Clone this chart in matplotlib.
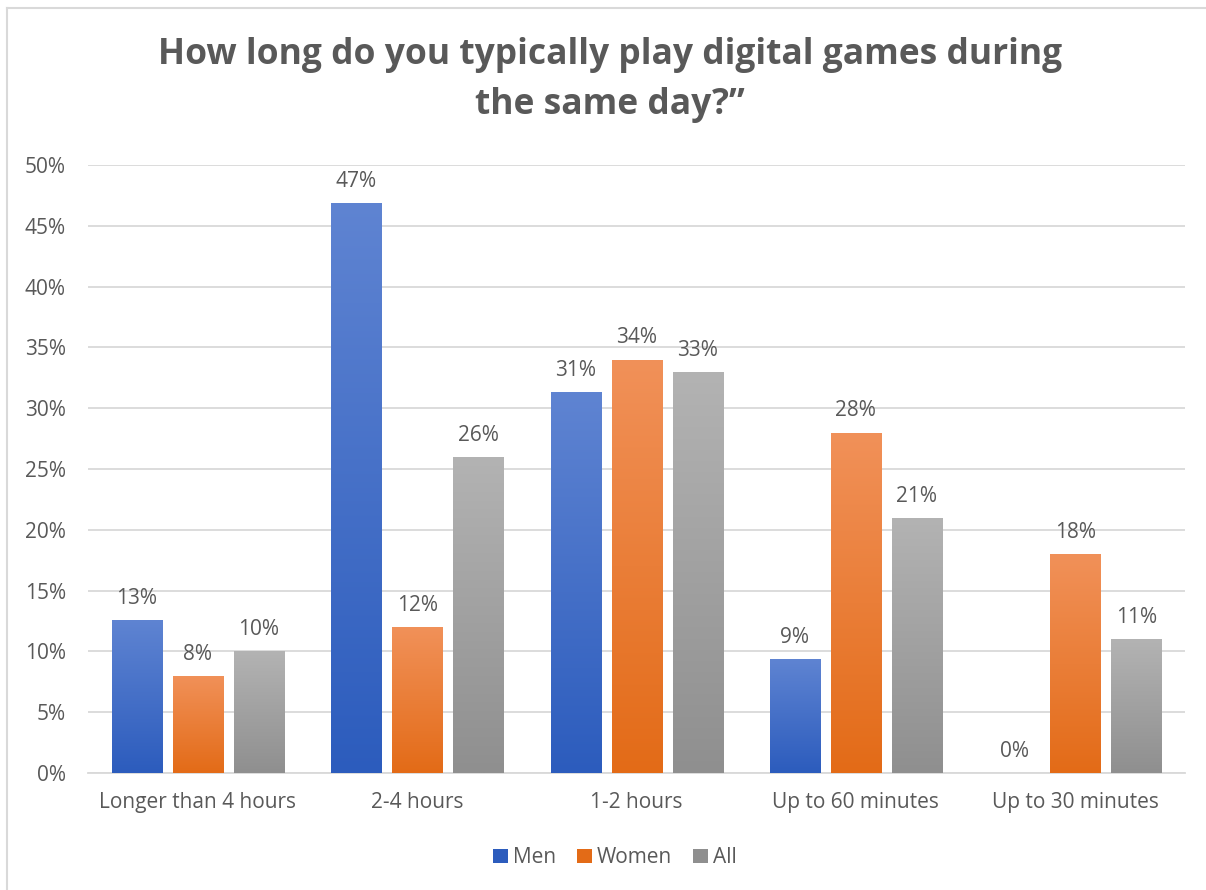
import numpy as np
import matplotlib.pyplot as plt
from matplotlib.patches import Patch
from matplotlib.lines import Line2D
from matplotlib.colors import LinearSegmentedColormap

categories = ['Longer than 4 hours', '2-4 hours', '1-2 hours', 'Up to 60 minutes', 'Up to 30 minutes']
series_names = ['Men', 'Women', 'All']
men = [12.6, 46.9, 31.3, 9.4, 0.0]
women = [8, 12, 34, 28, 18]
everyone = [10, 26, 33, 21, 11]
y_ticks = [0, 5, 10, 15, 20, 25, 30, 35, 40, 45, 50]

# (top, bottom) gradient colours for each series
gradients = [('#5f84d2', '#2c5cbd'), ('#f19159', '#e36b17'), ('#b3b3b3', '#8f8f8f')]
text_color = '#595959'
grid_color = '#d9d9d9'

plt.rcParams['font.family'] = ['Open Sans', 'DejaVu Sans']

fig = plt.figure(figsize=(12.06, 8.9), dpi=100)
ax = fig.add_axes([0.073, 0.1315, 0.9096, 0.6831])

x = np.arange(len(categories))
width = 0.228
stride = 0.278
series = [men, women, everyone]

for i, values in enumerate(series):
    offs = (i - 1) * stride
    top_c, bot_c = gradients[i]
    cmap = LinearSegmentedColormap.from_list('g%d' % i, [bot_c, top_c])
    bars = ax.bar(x + offs, values, width, color=top_c, zorder=3, linewidth=0)
    for bar, v in zip(bars, values):
        if v > 0:
            x0 = bar.get_x()
            grad = np.linspace(0, 1, 256).reshape(-1, 1)
            im = ax.imshow(grad, cmap=cmap, origin='lower', aspect='auto',
                           extent=(x0, x0 + width, 0, v), zorder=4)
            im.set_clip_path(bar)
        ax.annotate('%.0f%%' % v, (bar.get_x() + width / 2, v),
                    xytext=(0, 8), textcoords='offset points',
                    ha='center', va='bottom', fontsize=15, color=text_color)

ax.set_xlim(-0.5, len(categories) - 0.5)
ax.set_ylim(0, 50)
ax.set_yticks(y_ticks)
ax.set_yticklabels(['%d%%' % t for t in y_ticks])
ax.set_xticks(x)
ax.set_xticklabels(categories)
ax.tick_params(axis='both', length=0, labelsize=15, labelcolor=text_color)
ax.tick_params(axis='y', pad=16)
ax.tick_params(axis='x', pad=14)
ax.grid(axis='y', color=grid_color, linewidth=1.3, zorder=0)
for side in ['top', 'right', 'left']:
    ax.spines[side].set_visible(False)
ax.spines['bottom'].set_color(grid_color)
ax.spines['bottom'].set_linewidth(1.3)

fig.suptitle('How long do you typically play digital games during\nthe same day?\u201d',
             x=0.506, y=0.958, fontsize=25.5, fontweight='bold', color=text_color,
             linespacing=1.52)

handles = [Patch(facecolor=gradients[i][1], edgecolor='none') for i in range(3)]
fig.legend(handles, series_names, loc='center', bbox_to_anchor=(0.51, 0.036),
           ncol=3, frameon=False, fontsize=15, handlelength=0.7, handleheight=0.7,
           handletextpad=0.25, columnspacing=1.0, labelcolor=text_color)

# outer chart border (top and left edges)
fig.add_artist(Line2D([7 / 1206, 1.0], [1 - 8 / 890, 1 - 8 / 890], color=grid_color, lw=1.5))
fig.add_artist(Line2D([7 / 1206, 7 / 1206], [0, 1 - 8 / 890], color=grid_color, lw=1.5))

fig.savefig('out.png', dpi=100)
